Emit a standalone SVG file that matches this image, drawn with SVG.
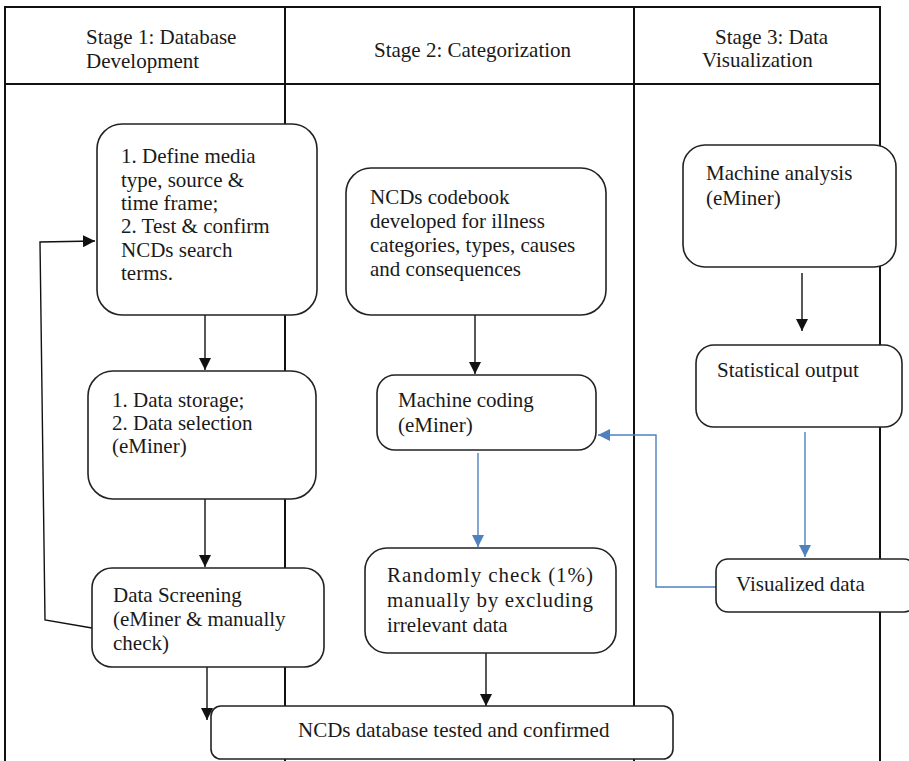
<svg xmlns="http://www.w3.org/2000/svg" width="909" height="761" viewBox="0 0 909 761">
<style>
.grid{stroke:#111;stroke-width:2;fill:none}
.box{fill:#fff;stroke:#222;stroke-width:1.6}
.t{font-family:"Liberation Serif","Times New Roman",serif;font-size:21px;fill:#1a1a1a}
.k{stroke:#111;stroke-width:1.4;fill:none}
.b{stroke:#4F81BD;stroke-width:1.4;fill:none}
</style>
<defs>
<marker id="ak" markerUnits="userSpaceOnUse" markerWidth="12" markerHeight="12" refX="12" refY="6" orient="auto"><path d="M0,0 L12,6 L0,12 z" fill="#111"/></marker>
<marker id="ab" markerUnits="userSpaceOnUse" markerWidth="12" markerHeight="12" refX="12" refY="6" orient="auto"><path d="M0,0 L12,6 L0,12 z" fill="#4F81BD"/></marker>
</defs>
<rect width="909" height="761" fill="#fff"/>
<g id="table">
<path class="grid" d="M5,7 H880 M5,84 H880 M5,6 V761 M285,6 V761 M634,6 V761 M880,6 V761"/>
<text class="t" x="86" y="44">Stage 1: Database</text>
<text class="t" x="86" y="68">Development</text>
<text class="t" x="374" y="57">Stage 2: Categorization</text>
<text class="t" x="715" y="44">Stage 3: Data</text>
<text class="t" x="702" y="67">Visualization</text>
</g>
<g id="connectors">
<path class="k" d="M205,315 V370" marker-end="url(#ak)"/>
<path class="k" d="M205,499 V567" marker-end="url(#ak)"/>
<path class="k" d="M92,628 L45,620 L40,242 L95,241" marker-end="url(#ak)"/>
<path class="k" d="M207,663 V720" marker-end="url(#ak)"/>
<path class="k" d="M475,315 V374" marker-end="url(#ak)"/>
<path class="k" d="M486,653 V706" marker-end="url(#ak)"/>
<path class="k" d="M802,273 V331" marker-end="url(#ak)"/>
<path class="b" d="M478,453 V547" marker-end="url(#ab)"/>
<path class="b" d="M805,432 V557" marker-end="url(#ab)"/>
<path class="b" d="M716,587 H656 V435 H598" marker-end="url(#ab)"/>
</g>
<g id="n1">
<rect class="box" x="97" y="124" width="220" height="191" rx="25"/>
<text class="t" x="121" y="163">1. Define media</text>
<text class="t" x="121" y="187">type, source &amp;</text>
<text class="t" x="121" y="210">time frame;</text>
<text class="t" x="121" y="233">2. Test &amp; confirm</text>
<text class="t" x="121" y="257">NCDs search</text>
<text class="t" x="121" y="280">terms.</text>
</g>
<g id="n2">
<rect class="box" x="88" y="371" width="228" height="128" rx="25"/>
<text class="t" x="112" y="407">1. Data storage;</text>
<text class="t" x="112" y="430">2. Data selection</text>
<text class="t" x="112" y="453">(eMiner)</text>
</g>
<g id="n3">
<rect class="box" x="92" y="568" width="232" height="99" rx="20"/>
<text class="t" x="113" y="602">Data Screening</text>
<text class="t" x="113" y="626">(eMiner &amp; manually</text>
<text class="t" x="113" y="650">check)</text>
</g>
<g id="n4">
<rect class="box" x="346" y="168" width="260" height="147" rx="25"/>
<text class="t" x="370" y="204">NCDs codebook</text>
<text class="t" x="370" y="228">developed for illness</text>
<text class="t" x="370" y="252">categories, types, causes</text>
<text class="t" x="370" y="276">and consequences</text>
</g>
<g id="n5">
<rect class="box" x="377" y="375" width="219" height="75" rx="18"/>
<text class="t" x="398" y="407">Machine coding</text>
<text class="t" x="398" y="432">(eMiner)</text>
</g>
<g id="n6">
<rect class="box" x="365" y="548" width="251" height="105" rx="22"/>
<text class="t" x="387" y="582" textLength="206" lengthAdjust="spacing">Randomly check (1%)</text>
<text class="t" x="387" y="607" textLength="206" lengthAdjust="spacing">manually by excluding</text>
<text class="t" x="387" y="632">irrelevant data</text>
</g>
<g id="n7">
<rect class="box" x="683" y="145" width="213" height="122" rx="22"/>
<text class="t" x="706" y="180">Machine analysis</text>
<text class="t" x="706" y="205">(eMiner)</text>
</g>
<g id="n8">
<rect class="box" x="696" y="345" width="206" height="82" rx="18"/>
<text class="t" x="717" y="377">Statistical output</text>
</g>
<g id="n9">
<rect class="box" x="716" y="559" width="200" height="53" rx="12"/>
<text class="t" x="736" y="591">Visualized data</text>
</g>
<g id="n10">
<rect class="box" x="211" y="706" width="462" height="53" rx="10"/>
<text class="t" x="298" y="737">NCDs database tested and confirmed</text>
</g>
</svg>
